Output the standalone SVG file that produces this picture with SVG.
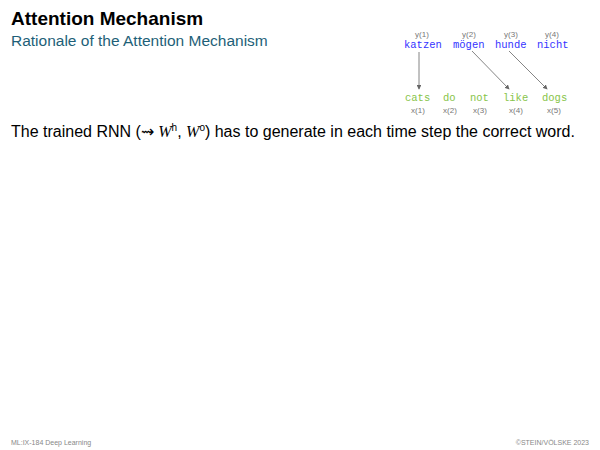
<svg xmlns="http://www.w3.org/2000/svg" width="600" height="450" viewBox="0 0 600 450">
<style>
.t{font-family:"Liberation Sans",sans-serif}
.m{font-family:"Liberation Mono",monospace;font-size:10.5px}
.y{fill:#3333ff}.x{fill:#88c44a}
.s{font-family:"Liberation Sans",sans-serif;font-size:8px;fill:#777;text-anchor:middle}
.c{stroke:#666;stroke-width:0.8;fill:none;marker-end:url(#a)}
</style>
<defs><marker id="a" markerWidth="6" markerHeight="6" refX="5" refY="3" orient="auto"><path d="M0,0L6,3L0,6z" fill="#666"/></marker></defs>
<rect width="600" height="450" fill="#fff"/>
<text class="t" x="11" y="25" font-size="19" font-weight="bold">Attention Mechanism</text>
<text class="t" x="11" y="46" font-size="15.5" fill="#1e5f78">Rationale of the Attention Mechanism</text>
<g id="ylabels">
<text class="s" x="422" y="37">y(1)</text><text class="s" x="469" y="37">y(2)</text>
<text class="s" x="511" y="37">y(3)</text><text class="s" x="552" y="37">y(4)</text>
</g>
<g id="n-katzen"><text class="m y" x="404" y="48">katzen</text></g>
<g id="n-moegen"><text class="m y" x="453" y="48">mögen</text></g>
<g id="n-hunde"><text class="m y" x="495" y="48">hunde</text></g>
<g id="n-nicht"><text class="m y" x="537" y="48">nicht</text></g>
<g id="n-cats"><text class="m x" x="405" y="101">cats</text></g>
<g id="n-do"><text class="m x" x="443" y="101">do</text></g>
<g id="n-not"><text class="m x" x="470" y="101">not</text></g>
<g id="n-like"><text class="m x" x="503" y="101">like</text></g>
<g id="n-dogs"><text class="m x" x="542" y="101">dogs</text></g>
<g id="xlabels">
<text class="s" x="418" y="113">x(1)</text><text class="s" x="450" y="113">x(2)</text>
<text class="s" x="480" y="113">x(3)</text><text class="s" x="516" y="113">x(4)</text>
<text class="s" x="554" y="113">x(5)</text>
</g>
<g id="connectors">
<path class="c" d="M419,52L419,89"/>
<path class="c" d="M472,51L509,89"/>
<path class="c" d="M509,51L547,89"/>
</g>
<text class="t" x="11" y="137" font-size="16">The trained RNN (⇝ <tspan font-family="Liberation Serif" font-style="italic">W</tspan><tspan font-size="10" dy="-6">h</tspan><tspan dy="6">, </tspan><tspan font-family="Liberation Serif" font-style="italic">W</tspan><tspan font-size="10" dy="-6">o</tspan><tspan dy="6">) has to generate in each time step the correct word.</tspan></text>
<text class="t" x="11" y="445" font-size="7" fill="#888">ML:IX-184   Deep Learning</text>
<text class="t" x="589" y="445" font-size="7" fill="#888" text-anchor="end">©STEIN/VÖLSKE 2023</text>
</svg>
